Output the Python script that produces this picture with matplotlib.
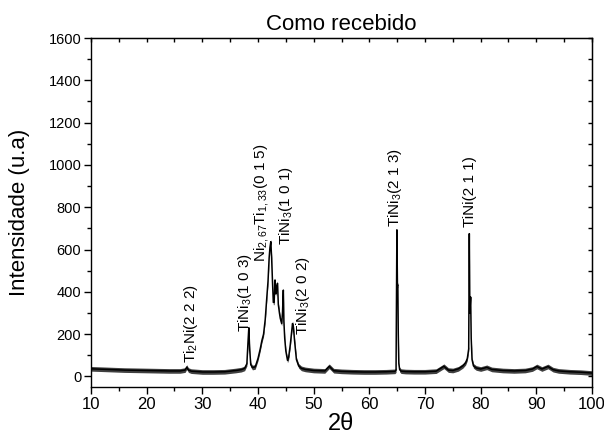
import matplotlib
matplotlib.use("Agg")
import matplotlib.pyplot as plt
from matplotlib.ticker import MultipleLocator

plt.rcParams['font.family'] = ['Liberation Sans', 'DejaVu Sans']
plt.rcParams['mathtext.fontset'] = 'custom'
plt.rcParams['mathtext.rm'] = 'Liberation Sans'
plt.rcParams['mathtext.it'] = 'Liberation Sans'
plt.rcParams['mathtext.default'] = 'regular'

# difratograma (2theta, intensidade)
two_theta = [10, 12, 14, 16, 18, 20, 22, 24, 26, 26.9, 27.2, 27.5, 28, 30, 32, 34, 36, 37, 37.6,
             38.0, 38.2, 38.35, 38.5, 38.7, 39.0, 39.5, 40.0, 40.4, 40.7, 41.0, 41.3, 41.6, 41.8,
             42.0, 42.15, 42.3, 42.45, 42.6, 42.75, 42.9, 43.05, 43.2, 43.35, 43.5, 43.65, 43.85,
             44.0, 44.25, 44.4, 44.55, 44.65, 44.8, 45.0, 45.3, 45.5, 45.8, 46.0, 46.2, 46.35,
             46.6, 46.9, 47.3, 47.8, 48.5, 50, 52, 52.8, 53.6, 55, 57, 59, 61, 63, 64.6, 64.8,
             64.95, 65.05, 65.12, 65.2, 65.3, 65.45, 65.7, 66.5, 68, 70, 72, 73.4, 74.2, 75, 76,
             76.8, 77.3, 77.6, 77.85, 77.96, 78.06, 78.2, 78.3, 78.45, 78.7, 79.2, 80, 81.1, 82,
             84, 86, 88, 89.3, 90.1, 91, 92.1, 93, 94, 96, 98, 100]
intensity = [36, 34, 32, 30, 29, 28, 27, 26, 26, 30, 44, 30, 25, 21, 21, 22, 28, 32, 38,
             60, 160, 230, 130, 55, 42, 45, 85, 130, 170, 200, 270, 380, 450,
             560, 610, 637, 560, 450, 350, 350, 456, 390, 420, 440, 340, 300,
             275, 250, 300, 408, 260, 180, 120, 76, 90, 150, 200, 250, 235,
             160, 80, 50, 38, 33, 28, 26, 48, 27, 24, 22, 21, 21, 22, 24, 30,
             693, 430, 432, 200, 60, 32, 25, 23, 22, 22, 25, 48, 30, 28, 36,
             50, 65, 85, 130, 675, 300, 375, 180, 80, 50, 40, 35, 43, 33,
             28, 26, 28, 35, 47, 35, 47, 32, 26, 22, 20, 16]

# rótulos dos picos: texto, posição 2theta, altura da base do texto
peak_labels = [r'Ti$_2$Ni(2 2 2)', r'TiNi$_3$(1 0 3)', r'Ni$_{2,67}$Ti$_{1,33}$(0 1 5)',
               r'TiNi$_3$(1 0 1)', r'TiNi$_3$(2 0 2)', r'TiNi$_3$(2 1 3)', r'TiNi(2 1 1)']
peak_pos = [27.9, 37.6, 40.7, 45.0, 48.1, 64.6, 78.0]
peak_base = [62, 209, 540, 620, 195, 707, 707]

fig = plt.figure(figsize=(6.04, 4.34), dpi=100)
ax = fig.add_axes([91 / 604, 47 / 434, 501 / 604, 349 / 434])

# faixa escura imitando o ruído da linha de base
ax.fill_between(two_theta, [v - 11 for v in intensity], [v + 11 for v in intensity],
                color='black', lw=0, alpha=0.75)
ax.plot(two_theta, intensity, color='black', lw=1.1)

for txt, xp, yb in zip(peak_labels, peak_pos, peak_base):
    ax.text(xp, yb, txt, rotation=90, ha='center', va='bottom', fontsize=11)

ax.set_xlim(10, 100)
ax.set_ylim(-50, 1600)
ax.xaxis.set_major_locator(MultipleLocator(10))
ax.xaxis.set_minor_locator(MultipleLocator(5))
ax.yaxis.set_major_locator(MultipleLocator(200))
ax.yaxis.set_minor_locator(MultipleLocator(100))

ax.tick_params(which='both', direction='out', top=False, right=False, width=1)
ax.tick_params(which='major', length=5)
ax.tick_params(which='minor', length=3)
ax.tick_params(axis='x', labelsize=12, pad=2)
ax.tick_params(axis='y', labelsize=10.5, pad=2)

# ticks internos no topo e à direita
sec_x = ax.secondary_xaxis('top')
sec_x.xaxis.set_major_locator(MultipleLocator(5))
sec_x.tick_params(direction='in', length=3, width=1, labeltop=False)
sec_y = ax.secondary_yaxis('right')
sec_y.yaxis.set_major_locator(MultipleLocator(100))
sec_y.tick_params(direction='in', length=3, width=1, labelright=False)

for s in ax.spines.values():
    s.set_linewidth(1)

ax.set_title('Como recebido', fontsize=16, pad=6)
ax.set_xlabel('2θ', fontsize=17)
ax.set_ylabel('Intensidade (u.a)', fontsize=16)
ax.xaxis.set_label_coords(0.5, -0.075)
ax.yaxis.set_label_coords(-0.122, 0.5)

fig.savefig('out.png', dpi=100)
